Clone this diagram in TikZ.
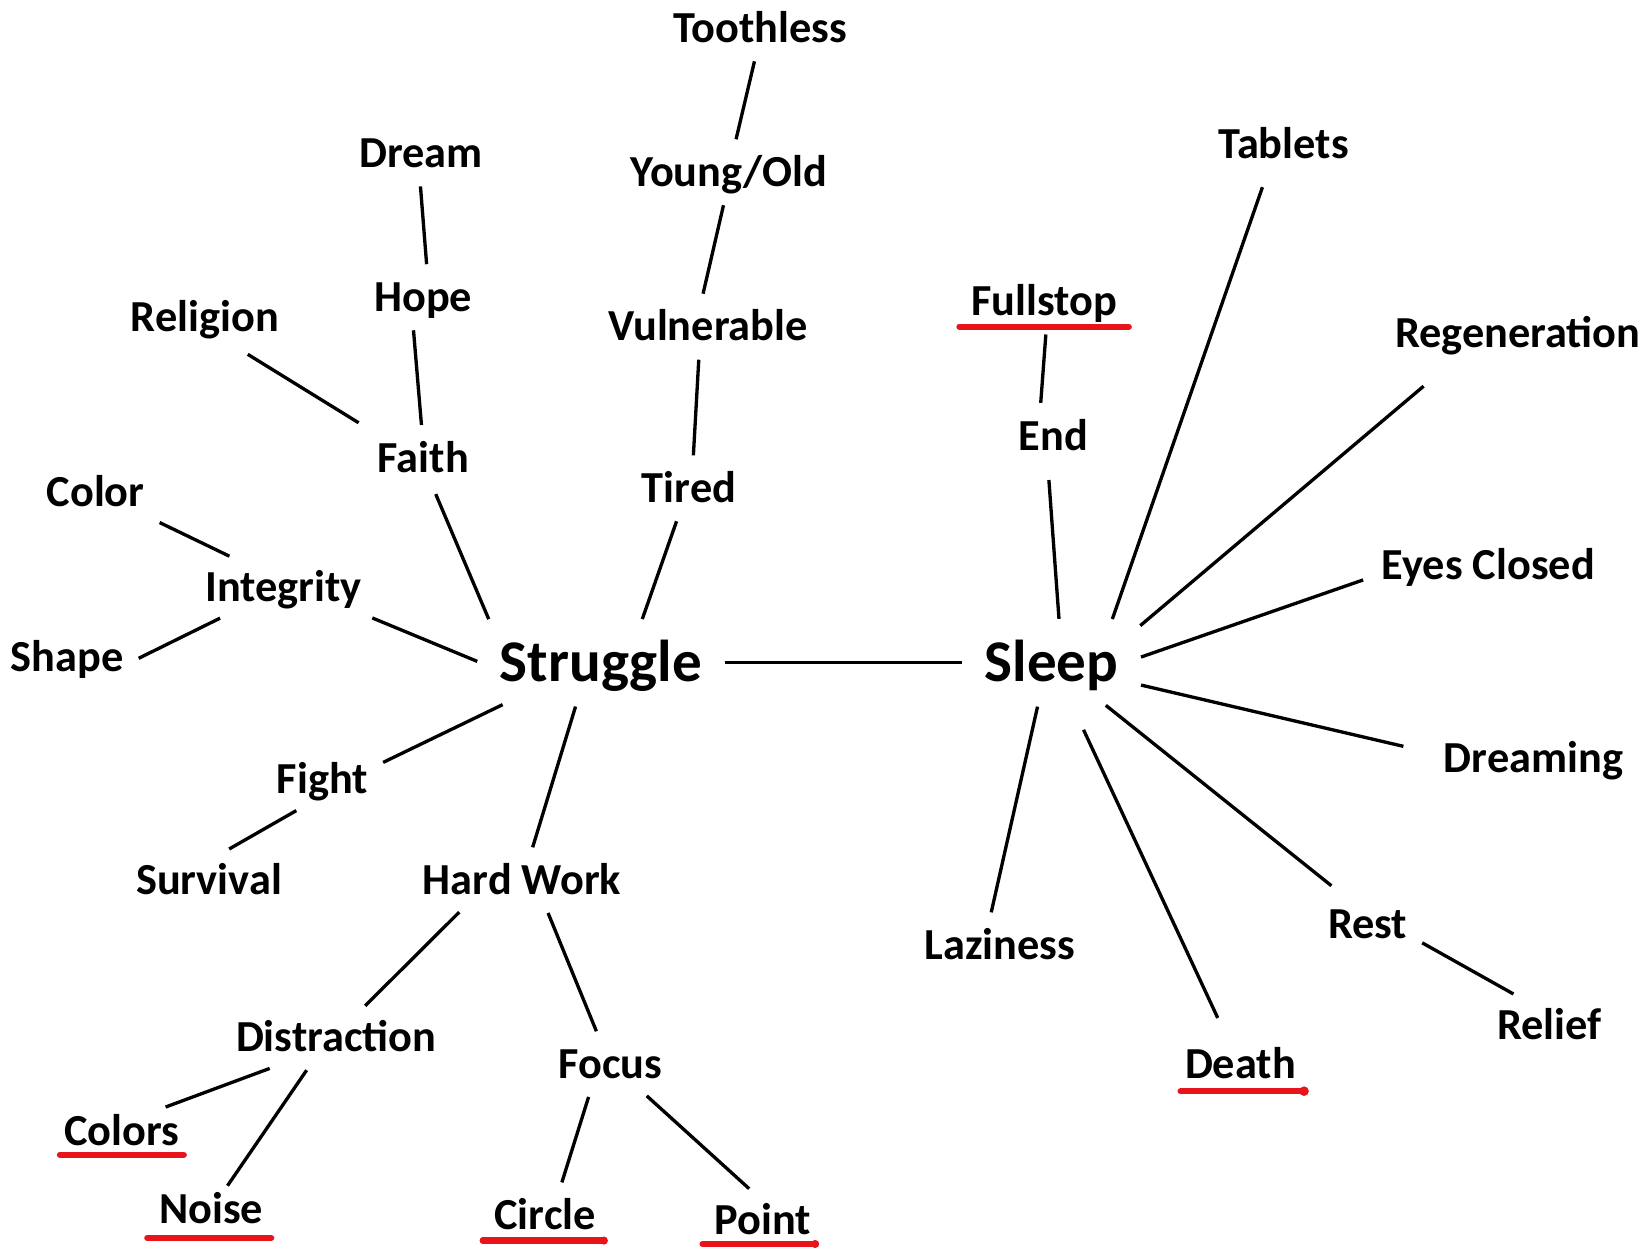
\documentclass[tikz,border=0pt]{standalone}
\usepackage{fontspec}
\setmainfont{Carlito}
\usepackage{tikz}
\definecolor{inkred}{HTML}{E8141B}
\tikzset{
  word/.style={font=\bfseries\fontsize{12}{14}\selectfont, inner xsep=3pt, inner ysep=2pt,
    text height=9.6pt, text depth=1.9pt},
  topic/.style={font=\bfseries\fontsize{16}{19}\selectfont, inner xsep=5pt, inner ysep=3pt,
    text height=12.8pt, text depth=2.6pt},
  link/.style={line width=0.9pt, shorten <=1pt, shorten >=1pt},
  inkline/.style={inkred, line width=1.7pt, line cap=round},
}

\begin{document}
\begin{tikzpicture}[x=0.01cm, y=-0.01cm]
    \useasboundingbox (0,0) rectangle (1568,1188);
    % the two main words
    \node[topic] (struggle) at (572,631) {Struggle};
    \node[topic] (sleep) at (1001,631) {Sleep};
    % struggle side
    \node[word] (toothless) at (724,27) {Toothless};
    \node[word] (youngold) at (694,164) {Young/Old};
    \node[word] (vulnerable) at (674,311) {Vulnerable};
    \node[word] (tired) at (656,465) {Tired};
    \node[word] (dream) at (401,146) {Dream};
    \node[word] (hope) at (403,283) {Hope};
    \node[word] (faith) at (403,436) {Faith};
    \node[word] (religion) at (195,302) {Religion};
    \node[word] (color) at (91,469) {Color};
    \node[word] (integrity) at (270,559) {Integrity};
    \node[word] (shape) at (64,626) {Shape};
    \node[word] (fight) at (307,742) {Fight};
    \node[word] (survival) at (199,838) {Survival};
    \node[word] (hardwork) at (497,838) {Hard Work};
    \node[word] (distraction) at (320,988) {Distraction};
    \node[word] (focus) at (581,1013) {Focus};
    \node[word] (colors) at (116,1077) {Colors};
    \node[word] (noise) at (201,1151) {Noise};
    \node[word] (circlew) at (519,1157) {Circle};
    \node[word] (point) at (726,1162) {Point};
    % sleep side
    \node[word] (fullstop) at (994,287) {Fullstop};
    \node[word] (endw) at (1003,415) {End};
    \node[word] (tablets) at (1222,137) {Tablets};
    \node[word] (regeneration) at (1445,317) {Regeneration};
    \node[word] (eyesclosed) at (1417,538) {Eyes Closed};
    \node[word] (dreaming) at (1460,722) {Dreaming};
    \node[word] (rest) at (1302,880) {Rest};
    \node[word] (relief) at (1475,976) {Relief};
    \node[word] (death) at (1181,1013) {Death};
    \node[word] (laziness) at (952,900) {Laziness};

    \draw[link] (struggle.east) -- (sleep.west);
    \draw[link] (toothless.-100) -- (youngold.78);
    \draw[link] (youngold.-99) -- (vulnerable.101);
    \draw[link] (vulnerable.-107) -- (tired.82);
    \draw[link] (tired.-111) -- (struggle.45);
    \draw[link] (dream.-92) -- (hope.83);
    \draw[link] (hope.-109) -- (faith.93);
    \draw[link, shorten <=4pt, shorten >=3pt] (religion.-44) -- (faith.152);
    \draw[link, shorten <=2pt] (faith.-72) -- (struggle.160);
    \draw[link] (color.-25) -- (integrity.150);
    \draw[link] (shape.-2) -- (integrity.-154);
    \draw[link] (integrity.-19) -- (struggle.180);
    \draw[link] (struggle.-157) -- (fight.15);
    \draw[link] (fight.-128) -- (survival.60);
    \draw[link] (struggle.-121) -- (hardwork.72);
    \draw[link] (hardwork.-154) -- (distraction.48);
    \draw[link] (hardwork.-50) -- (focus.113);
    \draw[link, shorten >=-4pt] (distraction.-155) -- (colors.27);
    \draw[link, shorten >=-2pt] (distraction.-133) -- (noise.55);
    \draw[link] (focus.-125) -- (circlew.62);
    \draw[link] (focus.-41) -- (point.110);

    \draw[link] (fullstop.-86) -- (endw.114);
    \draw[link, shorten <=4pt] (endw.-101) -- (sleep.79);
    \draw[link, shorten >=4pt] (sleep.34) -- (tablets.-119);
    \draw[link, shorten >=10pt] (sleep.22) -- (regeneration.-156);
    \draw[link, shorten >=2pt] (sleep.3) -- (eyesclosed.-174);
    \draw[link, shorten >=8pt] (sleep.-14) -- (dreaming.177);
    \draw[link, shorten >=4pt] (sleep.-38) -- (rest.130);
    \draw[link] (rest.-18) -- (relief.138);
    \draw[link, shorten <=8pt, shorten >=5pt] (sleep.-64) -- (death.117);
    \draw[link] (sleep.-108) -- (laziness.108);

    % red marks under some words
    \draw[inkline] ([yshift=-3pt]fullstop.base west) -- ([yshift=-3pt]fullstop.base east);
    \draw[inkline] ([xshift=2pt,yshift=-2.5pt]colors.base west) -- ([xshift=-2pt,yshift=-2.5pt]colors.base east);
    \draw[inkline] ([yshift=-4pt]noise.base west) -- ([xshift=-1pt,yshift=-4pt]noise.base east);
    \draw[inkline] ([yshift=-3pt]circlew.base west) -- ([xshift=-1pt,yshift=-3pt]circlew.base east);
    \draw[inkline] ([yshift=-2.5pt]point.base west) -- ([xshift=-2pt,yshift=-2.5pt]point.base east);
    \draw[inkline] ([xshift=2pt,yshift=-3.5pt]death.base west) -- ([xshift=-1pt,yshift=-3.5pt]death.base east);
    \fill[inkred] ([xshift=-1pt,yshift=-3.5pt]death.base east) circle (1.3pt);
    \fill[inkred] ([xshift=-2pt,yshift=-2.5pt]point.base east) circle (1.1pt);
    \fill[inkred] ([xshift=-1pt,yshift=-3pt]circlew.base east) circle (1.1pt);
\end{tikzpicture}
\end{document}
